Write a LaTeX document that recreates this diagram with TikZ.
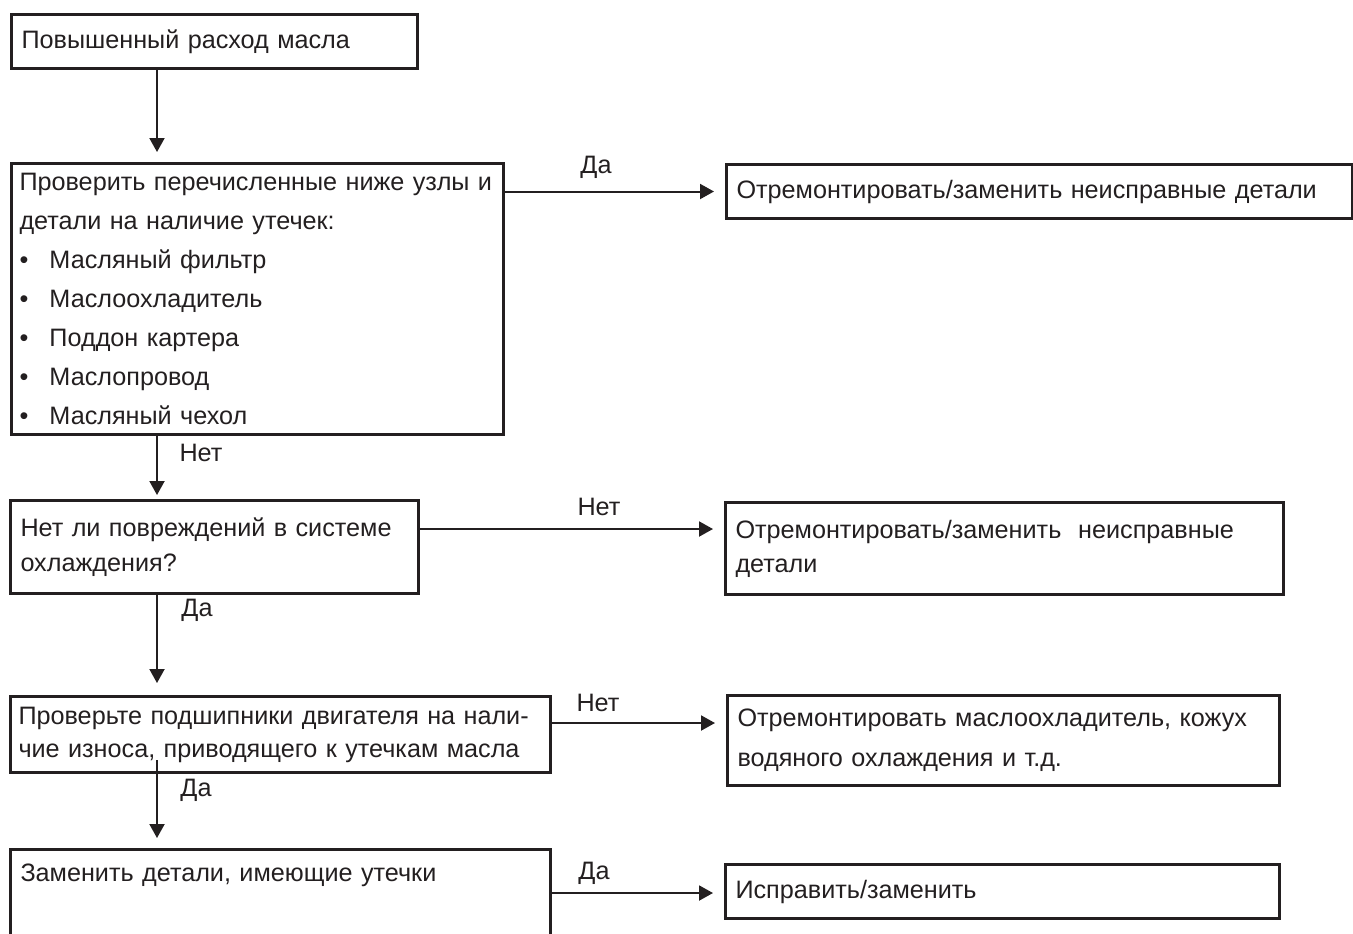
\documentclass[tikz,border=0pt]{standalone}
\usepackage{fontspec}
\setmainfont{Liberation Sans}
\usetikzlibrary{arrows.meta,positioning}
\definecolor{ink}{RGB}{35,31,32}
\tikzstyle{block}=[draw=ink, line width=1.5pt, anchor=north west, inner xsep=5pt, inner ysep=0pt, align=left, text=ink, font=\fontsize{12.6}{17.5}\selectfont]
\tikzstyle{flow}=[-{Triangle[length=7pt, width=7.5pt]}, draw=ink, line width=1pt]
\tikzstyle{tag}=[text=ink, inner sep=0pt, font=\fontsize{12.6}{15}\selectfont]
\newcommand{\itm}{\makebox[15pt][l]{•}}

\begin{document}
\begin{tikzpicture}[x=0.5pt, y=-0.5pt]
    \useasboundingbox (0,0) rectangle (1353,933);
    \coordinate (spine) at (157,0);
    % left column
    \node[block, text width=193pt, minimum height=27pt] (start) at (10,13) {Повышенный расход масла};
    \node[block, text width=238pt, minimum height=135.5pt, inner xsep=4pt, font=\fontsize{12.6}{19.5}\selectfont] (leaks) at (10,162)
        {Проверить перечисленные ниже узлы и\\ детали на наличие утечек:\\
         \itm Масляный фильтр\\ \itm Маслоохладитель\\ \itm Поддон картера\\
         \itm Маслопровод\\ \itm Масляный чехол};
    \node[block, text width=194pt, minimum height=46.5pt] (cool) at (9,499) {Нет ли повреждений в системе\\ охлаждения?};
    \node[block, text width=262pt, minimum height=38pt, inner xsep=4pt, font=\fontsize{12.6}{16.5}\selectfont] (bear) at (9,695)
        {Проверьте подшипники двигателя на нали-\\ чие износа, приводящего к утечкам масла};
    \node[block, text width=260pt, minimum height=65pt, font=\fontsize{12.6}{18}\selectfont] (swap) at (9,848)
        {Заменить детали, имеющие утечки\\ \strut\\ \strut};
    % right column
    \node[block, text width=303pt, minimum height=27pt] (fix1) at (725,163) {Отремонтировать/заменить неисправные детали};
    \node[block, text width=269pt, minimum height=46pt, font=\fontsize{12.6}{17}\selectfont] (fix2) at (724,501)
        {Отремонтировать/заменить~ неисправные\\ детали};
    \node[block, text width=266pt, minimum height=45pt, font=\fontsize{12.6}{20}\selectfont] (fix3) at (726,694)
        {Отремонтировать маслоохладитель, кожух\\ водяного охлаждения и т.д.};
    \node[block, text width=267pt, minimum height=27pt] (fix4) at (724,863) {Исправить/заменить};
    % down
    \draw[flow, shorten >=5pt] (start.south -| spine) -- (leaks.north -| spine);
    \draw[flow, shorten >=2pt] (leaks.south -| spine) -- (cool.north -| spine);
    \draw[flow, shorten >=6pt] (cool.south -| spine) -- (bear.north -| spine);
    \draw[flow, shorten >=5pt] ([yshift=7pt]bear.south -| spine) -- (swap.north -| spine);
    % across
    \draw[flow, shorten >=5.5pt] (leaks.east |- fix1.west) -- (fix1.west);
    \draw[flow, shorten >=5.5pt] (cool.east |- 0,529) -- (fix2.west |- 0,529);
    \draw[flow, shorten >=5.5pt] (bear.east |- 0,723) -- (fix3.west |- 0,723);
    \draw[flow, shorten >=5.5pt] (swap.east |- 0,893) -- (fix4.west |- 0,893);
    % labels
    \node[tag] (yes1) at (596,167) {Да};
    \node[tag] (no1) at (201,453) {Нет};
    \node[tag] (no2) at (599,507) {Нет};
    \node[tag] (yes2) at (197,610) {Да};
    \node[tag] (no3) at (598,703) {Нет};
    \node[tag] (yes3) at (196,790) {Да};
    \node[tag] (yes4) at (594,873) {Да};
\end{tikzpicture}
\end{document}
